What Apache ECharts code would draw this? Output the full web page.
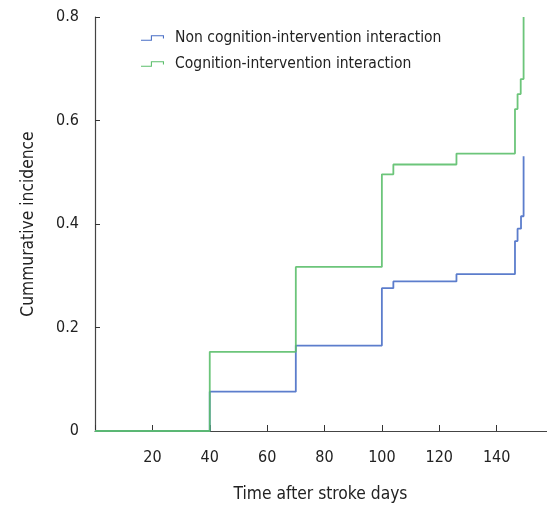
<!DOCTYPE html>
<html>
<head>
<meta charset="utf-8">
<script src="https://cdn.jsdelivr.net/npm/echarts@6/dist/echarts.min.js"></script>
<style>
  html, body { margin: 0; padding: 0; background: #fff; }
</style>
</head>
<body>
<div id="incidenceChart" style="width: 547px; height: 507px;"></div>
<script>
// step points: [day, cumulative incidence]
var nonCognition = [
  [0, 0], [40, 0.076], [70, 0.165], [100, 0.276], [104, 0.289],
  [126, 0.303], [146.4, 0.367], [147.3, 0.391], [148.5, 0.415], [149.4, 0.531]
];
var cognition = [
  [0, 0], [40, 0.153], [70, 0.317], [100, 0.496], [104, 0.515],
  [126, 0.536], [146.4, 0.622], [147.3, 0.651], [148.4, 0.68], [149.4, 0.8]
];
var seriesNames = ['Non cognition-intervention interaction', 'Cognition-intervention interaction'];
var xTickLabels = [20, 40, 60, 80, 100, 120, 140];

var font = '"Liberation Sans Narrow", "DejaVu Sans Condensed", "Roboto", sans-serif';
// small flat step shape for the legend
var stepIcon = 'path://M0,4 L9,4 L9,0 L21,0 L21,3 L20,3 L20,1 L10,1 L10,5 L0,5 Z';

var chart = echarts.init(document.getElementById('incidenceChart'));
var option = {
  animation: false,
  textStyle: { fontFamily: font },
  grid: { left: 95, right: -7, top: 17, bottom: 76, outerBoundsMode: 'none' },
  legend: {
    orient: 'vertical',
    left: 136,
    top: 25,
    itemGap: 10,
    itemWidth: 23,
    itemHeight: 6,
    data: seriesNames.map(function (n) { return { name: n, icon: stepIcon }; }),
    textStyle: { fontFamily: font, fontSize: 15.5, color: '#222', padding: [0, 0, 0, 6] }
  },
  xAxis: {
    type: 'value',
    min: 0,
    max: 160,
    interval: 20,
    name: 'Time after stroke days',
    nameLocation: 'middle',
    nameGap: 55,
    nameTextStyle: { fontFamily: font, fontSize: 17.3, color: '#222', padding: [0, 8, 0, 0] },
    splitLine: { show: false },
    axisLine: { lineStyle: { color: '#444', width: 1.2 } },
    axisTick: { inside: true, length: 6, lineStyle: { color: '#333' } },
    axisLabel: {
      margin: 19,
      fontSize: 16,
      color: '#222',
      formatter: function (v) { return xTickLabels.indexOf(v) >= 0 ? String(v) : ''; }
    }
  },
  yAxis: {
    type: 'value',
    min: 0,
    max: 0.8,
    interval: 0.2,
    name: 'Cummurative incidence',
    nameLocation: 'middle',
    nameGap: 58,
    nameTextStyle: { fontFamily: font, fontSize: 17.3, color: '#222' },
    splitLine: { show: false },
    axisLine: { show: true, lineStyle: { color: '#444', width: 1.2 } },
    axisTick: { show: true, inside: true, length: 5, lineStyle: { color: '#333' } },
    axisLabel: {
      margin: 16,
      fontSize: 16,
      color: '#222',
      formatter: function (v) { return v === 0 ? '0' : v.toFixed(1); }
    }
  },
  series: [
    {
      name: seriesNames[0],
      type: 'line',
      step: 'end',
      showSymbol: false,
      data: nonCognition,
      lineStyle: { color: '#4a6fc6', width: 1.8, opacity: 0.9 },
      itemStyle: { color: '#4a6fc6' }
    },
    {
      name: seriesNames[1],
      type: 'line',
      step: 'end',
      showSymbol: false,
      data: cognition,
      lineStyle: { color: '#5cbf6c', width: 1.8, opacity: 0.9 },
      itemStyle: { color: '#5cbf6c' }
    }
  ]
};
chart.setOption(option);
</script>
</body>
</html>
